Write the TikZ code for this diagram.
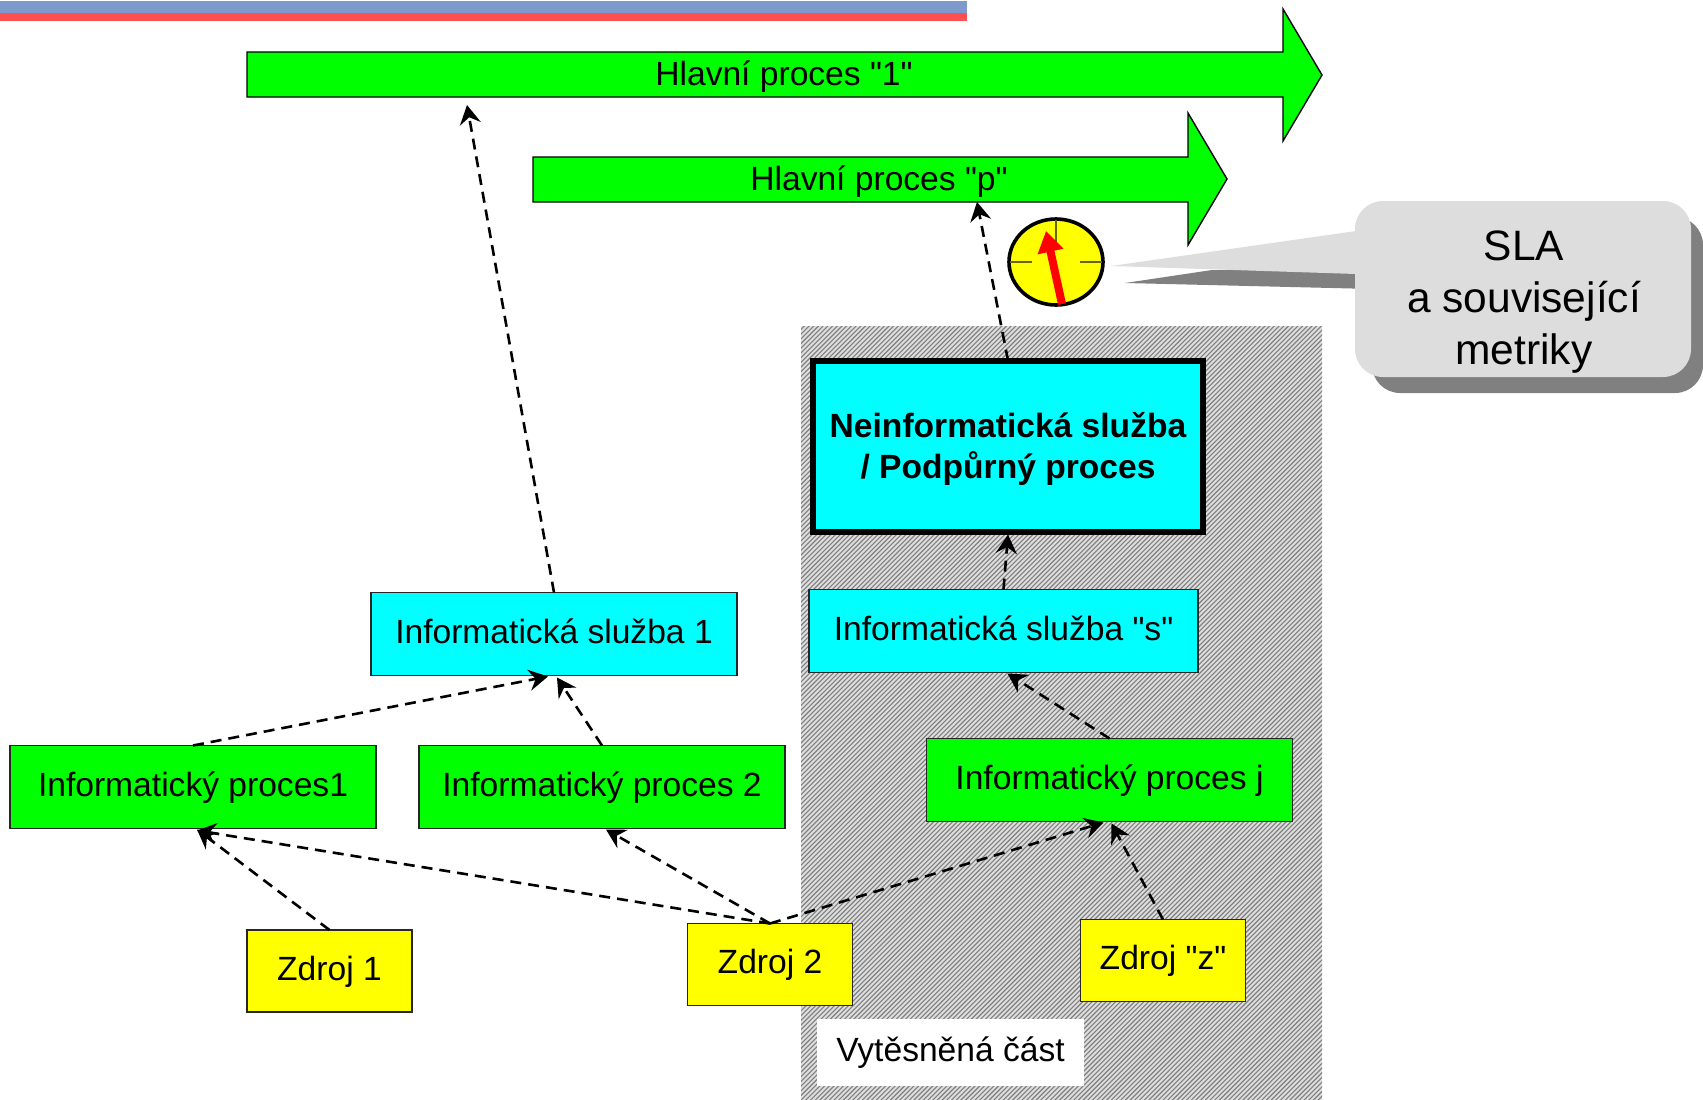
\documentclass[tikz,border=0pt]{standalone}
\usepackage{fontspec}
\setmainfont{Liberation Sans}[Ligatures=TeXOff]
\usetikzlibrary{arrows.meta,calc,shapes.geometric}
\definecolor{gn}{HTML}{00FF00}
\definecolor{cy}{HTML}{00FFFF}
\definecolor{ye}{HTML}{FFFF00}
\definecolor{topblue}{HTML}{7F99CC}
\definecolor{topred}{HTML}{FF5050}
\definecolor{calloutfill}{HTML}{DDDDDD}
\definecolor{shadowfill}{HTML}{808080}
\definecolor{tickcol}{HTML}{666600}
\tikzset{
  x=1pt,y=-1pt,
  boxbase/.style={draw=black!85,line width=1.3pt,inner sep=0pt,outer sep=0pt,align=center,
     font=\fontsize{33.6}{41}\selectfont,text=black},
  oneline/.style={text height=25pt,text depth=7pt},
  proc/.style={boxbase,oneline,fill=gn,minimum width=366pt,minimum height=83pt},
  serv/.style={boxbase,oneline,fill=cy,minimum width=366pt,minimum height=83pt},
  src/.style={boxbase,oneline,fill=ye,minimum width=165pt,minimum height=82pt},
  conn/.style={draw=black,line width=2.6pt,dash pattern=on 11pt off 7pt,
     -{Stealth[length=19pt,width=21pt,inset=6.5pt]}},
  bigarrow/.style={draw=black,line width=1.4pt,fill=gn,line join=miter},
  lbl/.style={inner sep=0pt,outer sep=0pt,font=\fontsize{33.6}{41}\selectfont,text=black},
}
\begin{document}
\begin{tikzpicture}
\useasboundingbox (0,0) rectangle (1703,1100);
% top bars
\fill[topblue] (0,1) rectangle (967,13);
\fill[topred] (0,13) rectangle (967,21);
% hatched zone
\begin{scope}
  \clip (801,326) rectangle (1322,1100);
  \fill[calloutfill] (801,326) rectangle (1322,1100);
  \foreach \k in {0,...,282} {
    \draw[shadowfill,line width=1.1pt] ({801+\k*4.7-790},1110) -- ({801+\k*4.7},320);
  }
\end{scope}
% main process arrows
\draw[bigarrow] (247,52) -- (1283,52) -- (1283,9) -- (1322,75) -- (1283,141) -- (1283,97) -- (247,97) -- cycle;
\node[lbl,oneline] (hp1) at (784,76.5) {Hlavní proces "1"};
\coordinate (a1target) at (467,105);
\draw[bigarrow] (533,157) -- (1188,157) -- (1188,113) -- (1227,179) -- (1188,245) -- (1188,202) -- (533,202) -- cycle;
\node[lbl,oneline] (hpp) at (879,181.5) {Hlavní proces "p"};
\coordinate (aptarget) at (977,202);
% clock
\node[draw=black,line width=3.6pt,fill=ye,ellipse,minimum width=94pt,minimum height=86pt,inner sep=0pt,outer sep=0pt] (clock) at (1056,262) {};
\draw[tickcol,line width=1.3pt] (1056,220) -- (1056,242);
\draw[tickcol,line width=1.3pt] (1010,262) -- (1032,262);
\draw[tickcol,line width=1.3pt] (1080,262) -- (1102,262);
\draw[red,line width=8pt,-{Triangle[length=21pt,width=25pt]}] (1062,304) -- (1046,231);
% callout
\fill[shadowfill] (1125,283) -- (1212,270) -- (1355,270) -- (1373,270) -- (1373,289) -- cycle;
\fill[shadowfill,rounded corners=28pt] (1372,217) rectangle (1703,393);
\fill[calloutfill] (1111,266) -- (1356,231) -- (1356,274) -- cycle;
\fill[calloutfill,rounded corners=28pt] (1355,201) rectangle (1691,377);
\node[lbl,align=center,font=\fontsize{42.5}{52}\selectfont] (sla) at (1524,302) {SLA\\a související\\metriky};
% boxes
\node[boxbase,draw=black,fill=cy,line width=6pt,minimum width=390pt,minimum height=171pt,font=\fontsize{33.6}{41}\selectfont\bfseries,text depth=0pt] (nein) at (1008,446) {\raisebox{1.5pt}{Neinformatická služba}\\\raisebox{1.5pt}{/ Podpůrný proces}};
\node[serv,minimum width=389pt] (infos) at (1003.5,631) {Informatická služba "s"};
\node[serv] (info1) at (554,634) {Informatická služba 1};
\node[proc] (proc1) at (193,787) {Informatický proces1};
\node[proc] (proc2) at (602,787) {Informatický proces 2};
\node[proc] (procj) at (1109.5,780) {Informatický proces j};
\node[src] (z1) at (329.5,971) {Zdroj 1};
\node[src] (z2) at (770,964.5) {Zdroj 2};
\node[src] (zz) at (1163,960.5) {Zdroj "z"};
\node[boxbase,oneline,draw=none,fill=white,minimum width=267pt,minimum height=67pt] (vyt) at (950.5,1052) {Vytěsněná část};
% connectors
\draw[conn] (info1.north) -- (a1target);
\draw[conn] (nein.north) -- (aptarget);
\draw[conn] (infos.north) -- ([yshift=-3pt]nein.south);
\draw[conn] (proc1.north) -- ([xshift=-6pt,yshift=-1pt]info1.south);
\draw[conn] (proc2.north) -- ([xshift=3pt,yshift=-2pt]info1.south);
\draw[conn] (procj.north) -- ([xshift=4pt,yshift=-1pt]infos.south);
\draw[conn] (z1.north) -- ([xshift=4pt,yshift=-1pt]proc1.south);
\draw[conn] (z2.north) -- ([xshift=4pt,yshift=-2pt]proc1.south);
\draw[conn] (z2.north) -- ([xshift=4pt,yshift=-1pt]proc2.south);
\draw[conn] (z2.north) -- ([xshift=-6pt,yshift=-1pt]procj.south);
\draw[conn] (zz.north) -- ([xshift=2pt,yshift=-2pt]procj.south);
\end{tikzpicture}
\end{document}
